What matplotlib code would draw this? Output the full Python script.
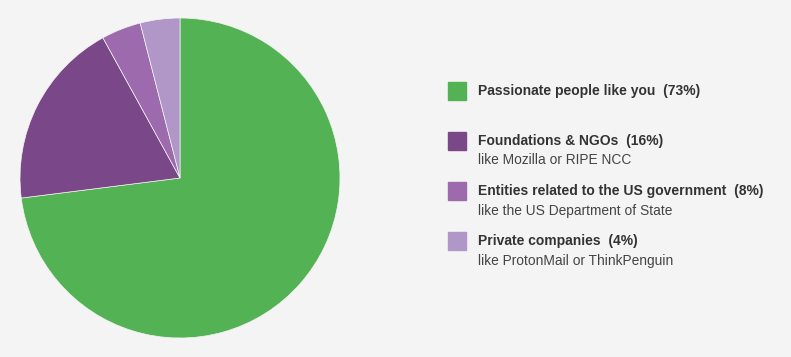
import matplotlib.pyplot as plt
from matplotlib.patches import Rectangle

W, H = 791, 357

# slice values, legend labels as printed
values = [73, 19, 4, 4]
colors = ['#53b253', '#7a4788', '#9c6aad', '#b097c8']
titles = ['Passionate people like you  (73%)',
          'Foundations & NGOs  (16%)',
          'Entities related to the US government  (8%)',
          'Private companies  (4%)']
subtitles = ['', 'like Mozilla or RIPE NCC',
             'like the US Department of State',
             'like ProtonMail or ThinkPenguin']

plt.rcParams['font.family'] = ['Liberation Sans', 'DejaVu Sans']

fig = plt.figure(figsize=(W / 100, H / 100), dpi=100, facecolor='#f4f4f4')

# pie: centre (180,178), radius 160 px
ax = fig.add_axes([20 / W, (H - 338) / H, 320 / W, 320 / H])
ax.pie(values, colors=colors, startangle=90, counterclock=False,
       radius=1, wedgeprops=dict(edgecolor='#f4f4f4', linewidth=0.5))
ax.set_xlim(-1, 1)
ax.set_ylim(-1, 1)
ax.set_aspect('equal')
ax.axis('off')

# legend
sq_top = [82, 132, 182, 232]
for i, top in enumerate(sq_top):
    fig.patches.append(Rectangle((448 / W, (H - top - 18) / H), 18 / W, 18 / H,
                                 transform=fig.transFigure, color=colors[i]))
    fig.text(478 / W, (H - top - 13.5) / H, titles[i], fontsize=10,
             fontweight='bold', color='#333333', va='baseline')
    if subtitles[i]:
        fig.text(478 / W, (H - top - 32.5) / H, subtitles[i], fontsize=9.95,
                 color='#444444', va='baseline')

fig.savefig('out.png', dpi=100, facecolor=fig.get_facecolor())
